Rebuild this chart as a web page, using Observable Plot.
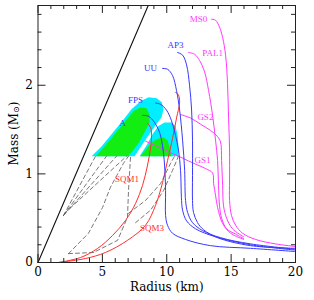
<!DOCTYPE html>
<html><head><meta charset="utf-8">
<script src="https://cdn.jsdelivr.net/npm/d3@7"></script>
<script src="https://cdn.jsdelivr.net/npm/@observablehq/plot@0.6"></script>
<style>body{margin:0;background:#fff}#chart{width:314px;height:300px}</style>
</head><body><div id="chart"></div>
<script>
// Tick values
const xMajor = [0, 5, 10, 15, 20];
const xMinor = [1,2,3,4,6,7,8,9,11,12,13,14,16,17,18,19];
const yMajor = [0, 1, 2];
const yMinor = [0.2,0.4,0.6,0.8,1.2,1.4,1.6,1.8,2.2,2.4,2.6,2.8];

// [Radius km, Mass Msun]
const gr = [[0,0],[8.56,2.9]];
const ms0 = [[13.48,2.746],[13.79,2.734],[14.10,2.655],[14.34,2.54],[14.57,2.34],[14.72,2.02],[14.80,1.64],[14.88,1.27],[14.88,0.93],[14.88,0.70],[15.03,0.53],[15.35,0.42],[15.89,0.33],[16.90,0.26],[18.45,0.21],[20.0,0.18]];
const pal1 = [[11.69,2.37],[12.16,2.35],[12.55,2.28],[12.94,2.15],[13.25,1.94],[13.56,1.66],[13.79,1.38],[13.95,1.15],[14.02,0.87],[14.10,0.64],[14.26,0.50],[14.65,0.38],[15.35,0.32],[15.97,0.27]];
const gs2 = [[11.07,1.67],[11.85,1.63],[12.63,1.56],[13.40,1.49],[13.95,1.42],[14.18,1.36],[14.26,1.15],[14.34,0.87],[14.41,0.64],[14.65,0.50],[15.11,0.38],[15.97,0.29]];
const gs1 = [[8.35,1.37],[10.30,1.24],[12.08,1.12],[13.01,1.06],[13.56,1.01],[13.64,0.89],[13.79,0.76],[13.95,0.62],[14.34,0.44],[14.96,0.33],[15.97,0.26]];
const ap3 = [[10.84,2.37],[11.23,2.34],[11.54,2.23],[11.77,2.00],[11.93,1.72],[12.00,1.38],[12.00,0.98],[12.00,0.70],[12.08,0.565],[12.39,0.45],[12.86,0.37],[13.95,0.28],[16.51,0.19],[20.0,0.16]];
const uu = [[9.67,2.19],[10.07,2.18],[10.45,2.11],[10.76,1.94],[11.00,1.72],[11.23,1.38],[11.39,1.04],[11.46,0.70],[11.62,0.565],[12.00,0.45],[12.78,0.36],[14.18,0.28],[16.51,0.21],[20.0,0.15]];
const fps = [[9.13,1.80],[9.52,1.785],[9.98,1.72],[10.37,1.60],[10.68,1.435],[10.91,1.27],[11.07,1.04],[11.15,0.70],[11.23,0.59],[11.54,0.47],[12.24,0.38],[13.79,0.29],[16.51,0.20],[20.0,0.14]];
const eosA = [[8.12,1.66],[8.59,1.65],[9.05,1.58],[9.44,1.47],[9.67,1.32],[9.83,1.10],[9.91,0.81],[9.91,0.53],[10.06,0.42],[10.45,0.33],[11.46,0.26],[13.40,0.19],[16.51,0.16],[20.0,0.124]];
const sqm1 = [[1.59,0],[3.30,0.056],[4.62,0.158],[5.79,0.305],[6.80,0.475],[7.58,0.667],[8.12,0.87],[8.51,1.10],[8.74,1.29],[8.82,1.435],[8.74,1.525],[8.51,1.57]];
const sqm3 = [[1.59,0],[3.69,0.045],[5.24,0.113],[6.95,0.25],[8.35,0.42],[9.13,0.645],[9.67,0.90],[10.06,1.15],[10.45,1.40],[10.76,1.63],[11.0,1.81],[10.91,1.89],[10.68,1.92]];

// shaded regions
const cyan1 = [[4.16,1.20],[4.93,1.31],[5.79,1.46],[6.57,1.60],[7.26,1.73],[7.96,1.82],[8.59,1.865],[9.21,1.853],[9.60,1.81],[9.75,1.73],[9.60,1.64],[9.13,1.55],[8.51,1.42],[7.96,1.30],[7.50,1.20]];
const green1 = [[4.47,1.20],[5.24,1.32],[6.02,1.46],[6.80,1.60],[7.42,1.71],[7.96,1.75],[8.43,1.74],[8.66,1.67],[8.66,1.58],[8.28,1.47],[7.81,1.345],[7.26,1.24],[6.95,1.20]];
const cyan2 = [[7.89,1.20],[8.43,1.32],[8.90,1.45],[9.36,1.54],[9.83,1.58],[10.37,1.58],[10.68,1.54],[10.84,1.435],[10.91,1.31],[10.91,1.20]];
const green2 = [[7.96,1.20],[8.51,1.30],[8.97,1.37],[9.36,1.40],[9.75,1.41],[10.06,1.38],[10.22,1.30],[10.37,1.20]];

// dashed contours
const dashed = [
  [[1.98,0.53],[4.47,1.20]],
  [[1.98,0.53],[5.32,1.20]],
  [[1.98,0.53],[6.10,1.20]],
  [[2.06,0.555],[6.88,1.20]],
  [[2.37,0.10],[3.92,0.33],[5.01,0.62],[5.63,0.85],[6.64,1.12],[7.03,1.20]],
  [[2.37,0.10],[4.31,0.113],[6.18,0.25],[6.95,0.51],[7.03,0.81],[7.19,1.20]],
  [[7.03,0.555],[8.35,0.70],[9.52,0.89],[10.30,1.12],[10.61,1.20]],
  [[7.58,0.45],[8.74,0.59],[9.75,0.81],[10.45,1.04],[10.91,1.20]]
];

// curve labels
const labelR = [12.47, 13.56, 10.68, 8.74, 7.58, 6.57, 13.0, 12.78, 6.92, 8.86];
const labelM = [2.746, 2.36, 2.45, 2.19, 1.83, 1.57, 1.64, 1.15, 0.94, 0.384];
const labelText = ["MS0","PAL1","AP3","UU","FPS","A","GS2","GS1","SQM1","SQM3"];
const labelGroup = ["m","m","b","b","b","b","m","m","r","r"];

const BLUE = "#3838ff", MAG = "#ff38ff", RED = "#ff2e2e";
const colors = {b: BLUE, m: MAG, r: RED};
const labels = labelText.map((t, i) => ({R: labelR[i], M: labelM[i], t, c: colors[labelGroup[i]]}));

const W = 314, H = 300, ML = 37.5, MR = 19, MT = 5, MB = 38;
const X = d => d[0], Y = d => d[1];
const serif = "DejaVu Serif";
const lab = "Liberation Serif";

const poly = (pts, color) => Plot.line(pts, {x: X, y: Y, fill: color, stroke: "none"});
const curve = (pts, color) => Plot.line(pts, {x: X, y: Y, stroke: color, strokeWidth: 1, curve: "catmull-rom"});

const tMin = 0.045, tMaj = 0.09, rMin = 0.31, rMaj = 0.62;

const chart = Plot.plot({
  width: W, height: H,
  marginLeft: ML, marginRight: MR, marginTop: MT, marginBottom: MB,
  style: {fontFamily: serif, fontSize: "12px", background: "#fff", color: "#000"},
  x: {domain: [0, 20], ticks: xMajor, tickSize: 0, tickPadding: 5, label: null, tickFormat: d => String(d)},
  y: {domain: [0, 2.9], ticks: yMajor, tickSize: 0, tickPadding: 5, label: null, tickFormat: d => String(d)},
  marks: [
    poly(cyan1, "#00eeff"),
    poly(green1, "#12ee12"),
    poly(cyan2, "#00eeff"),
    poly(green2, "#12ee12"),
    ...dashed.map(d => Plot.line(d, {x: X, y: Y, stroke: "#555", strokeWidth: 0.8, strokeDasharray: "4,3"})),
    Plot.line(gr, {x: X, y: Y, stroke: "#111", strokeWidth: 1.1}),
    curve(sqm1, RED), curve(sqm3, RED),
    curve(gs1, MAG), curve(gs2, MAG), curve(pal1, MAG), curve(ms0, MAG),
    curve(eosA, BLUE), curve(fps, BLUE), curve(uu, BLUE), curve(ap3, BLUE),
    Plot.text(labels, {x: "R", y: "M", text: "t", fill: "c", fontSize: 9, fontFamily: lab}),
    // ticks (inward, all four sides)
    Plot.ruleX(xMinor, {x: d => d, y1: 0, y2: tMin, stroke: "#222"}),
    Plot.ruleX(xMajor, {x: d => d, y1: 0, y2: tMaj, stroke: "#222"}),
    Plot.ruleX(xMinor, {x: d => d, y1: 2.9, y2: 2.9 - tMin, stroke: "#222"}),
    Plot.ruleX(xMajor, {x: d => d, y1: 2.9, y2: 2.9 - tMaj, stroke: "#222"}),
    Plot.ruleY(yMinor, {y: d => d, x1: 0, x2: rMin, stroke: "#222"}),
    Plot.ruleY(yMajor, {y: d => d, x1: 0, x2: rMaj, stroke: "#222"}),
    Plot.ruleY(yMinor, {y: d => d, x1: 20, x2: 20 - rMin, stroke: "#222"}),
    Plot.ruleY(yMajor, {y: d => d, x1: 20, x2: 20 - rMaj, stroke: "#222"}),
    Plot.frame({stroke: "#222", strokeWidth: 1}),
    Plot.text(["Radius (km)"], {frameAnchor: "bottom", dy: 28, text: d => d, fontSize: 12, fontFamily: serif})
  ]
});

document.getElementById("chart").appendChild(chart);
const svg = d3.select(chart.tagName.toLowerCase() === "svg" ? chart : chart.querySelector("svg"));
const cy = (MT + (H - MB)) / 2;
const t = svg.append("text")
  .attr("transform", `translate(14,${cy}) rotate(-90)`)
  .attr("text-anchor", "middle")
  .attr("dominant-baseline", "middle")
  .style("font-family", serif).style("font-size", "12px").attr("fill", "#000");
t.append("tspan").text("Mass (M");
t.append("tspan").attr("font-size", "8px").attr("dy", "3").text("⊙");
t.append("tspan").attr("dy", "-3").text(")");
</script>
</body></html>
